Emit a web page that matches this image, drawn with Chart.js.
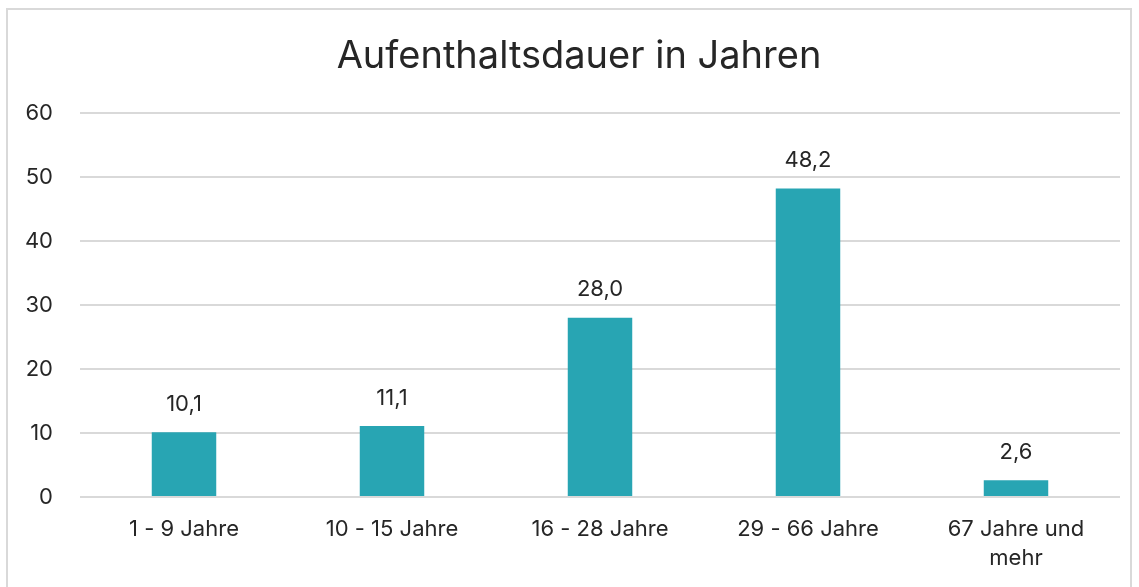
<!DOCTYPE html>
<html>
<head>
<meta charset="utf-8">
<script src="https://cdn.jsdelivr.net/npm/chart.js@4.4.0/dist/chart.umd.min.js"></script>
<style>
  html, body { margin: 0; padding: 0; background: #fff; overflow: hidden; }
  #frame {
    position: absolute; left: 6px; top: 8px; width: 1126px; height: 600px;
    border: 2px solid #d9d9d9; box-sizing: border-box;
  }
  #wrap { position: absolute; left: 0; top: 0; width: 1139px; height: 587px; }
</style>
</head>
<body>
<div id="frame"></div>
<div id="wrap"><canvas id="chart" width="1139" height="587"></canvas></div>
<script>
// data
const titleText = "Aufenthaltsdauer in Jahren";
const categories = ["1 - 9 Jahre", "10 - 15 Jahre", "16 - 28 Jahre", "29 - 66 Jahre", ["67 Jahre und", "mehr"]];
const values = [10.1, 11.1, 28.0, 48.2, 2.6];
const yTicks = [0, 10, 20, 30, 40, 50, 60];

const textColor = "#262626";
const fontFamily = "Inter, 'Liberation Sans', Arial, sans-serif";

// value labels above the bars + title (title is a bit left of the plot centre)
const valueLabels = {
  id: "valueLabels",
  afterDatasetsDraw(chart) {
    const ctx = chart.ctx;
    const meta = chart.getDatasetMeta(0);
    ctx.save();
    ctx.font = "22px " + fontFamily;
    ctx.fillStyle = textColor;
    ctx.textAlign = "center";
    ctx.textBaseline = "bottom";
    meta.data.forEach((bar, i) => {
      const txt = values[i].toFixed(1).replace(".", ",");
      ctx.fillText(txt, bar.x, bar.y - 17);
    });
    ctx.font = "38px " + fontFamily;
    ctx.textBaseline = "middle";
    ctx.fillText(titleText, 579, 57);
    ctx.restore();
  }
};

new Chart(document.getElementById("chart"), {
  type: "bar",
  data: {
    labels: categories,
    datasets: [{
      data: values,
      backgroundColor: "#28a5b3",
      barPercentage: 0.62,
      categoryPercentage: 0.5
    }]
  },
  options: {
    responsive: false,
    animation: false,
    layout: { padding: { left: 0, right: 19, top: 113, bottom: 0 } },
    plugins: {
      legend: { display: false },
      tooltip: { enabled: false },
      title: { display: false }
    },
    scales: {
      x: {
        afterFit(scale) { scale.height = 90; },
        grid: { display: false, drawTicks: false },
        border: { display: false },
        ticks: {
          color: textColor,
          font: { family: fontFamily, size: 22, lineHeight: 1.32 },
          padding: 18,
          maxRotation: 0
        }
      },
      y: {
        min: 0,
        max: 60,
        afterBuildTicks(scale) { scale.ticks = yTicks.map(v => ({ value: v })); },
        afterFit(scale) { scale.width = 80; },
        grid: { color: "#d9d9d9", lineWidth: 2, drawTicks: false },
        border: { display: false },
        ticks: {
          color: textColor,
          font: { family: fontFamily, size: 22 },
          padding: 27
        }
      }
    }
  },
  plugins: [valueLabels]
});
</script>
</body>
</html>
